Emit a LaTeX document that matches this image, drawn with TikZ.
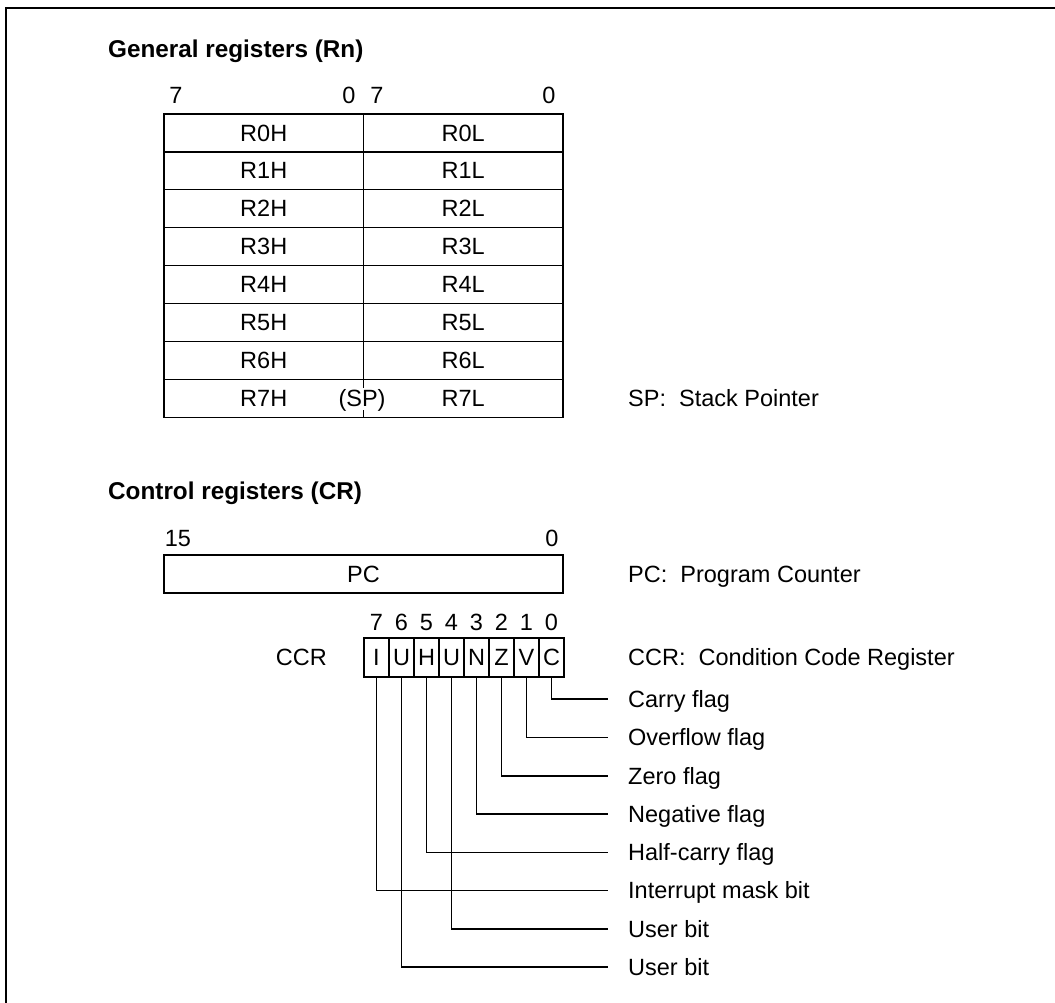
\documentclass[tikz,border=0pt]{standalone}
\usepackage{fontspec}
\setmainfont{Liberation Sans}
\begin{document}
\begin{tikzpicture}[x=1pt,y=-1pt,
  every node/.style={font=\fontsize{23.5}{27}\selectfont},
  txt/.style={inner sep=0pt, text height=16.2pt, text depth=0pt},
  head/.style={txt, anchor=west, font=\fontsize{24.3}{28}\selectfont\bfseries},
  cell/.style={draw, line width=1.3pt, inner sep=0pt, minimum width=199.5pt, minimum height=37.9pt, text height=16.2pt, text depth=0pt},
  bitbox/.style={draw, line width=1.3pt, inner sep=0pt, minimum width=25pt, minimum height=39pt, text height=16.2pt, text depth=0pt},
  lbl/.style={txt, anchor=west},
  conn/.style={line width=1.1pt}
]
\useasboundingbox (0,0) rectangle (1055,1002);
% outer frame (cut by the picture edge)
\draw[line width=2pt] (6,1010) -- (6,8) -- (1060,8);

% General registers
\node[head] (hgen) at (108,49) {General registers (Rn)};
\node[txt] (g7a) at (176,95.5) {7};
\node[txt] (g0a) at (349,95.5) {0};
\node[txt] (g7b) at (377,95.5) {7};
\node[txt] (g0b) at (549,95.5) {0};

\foreach \i in {0,...,7}{
  \pgfmathsetmacro{\yy}{114+37.9*\i+18.95}
  \node[cell] (r\i h) at (263.75,\yy) {R\i H};
  \node[cell] (r\i l) at (463.25,\yy) {R\i L};
}
\node[txt, fill=white, inner xsep=0.5pt, inner ysep=3pt] (sp) at (362,398.6) {(SP)};
\node[lbl] (splbl) at (628,398.6) {SP:\ \ Stack Pointer};

% Control registers
\node[head] (hcr) at (108,491.5) {Control registers (CR)};
\node[txt] (c15) at (178,538.5) {15};
\node[txt] (c0) at (552,538.5) {0};
\node[draw, line width=1.3pt, inner sep=0pt, minimum width=399pt, minimum height=38pt, text height=16.2pt, text depth=0pt] (pc) at (363.5,574) {PC};
\node[lbl] (pclbl) at (628,574) {PC:\ \ Program Counter};

% CCR
\node[txt, anchor=east] (ccr) at (327,657.5) {CCR};
\node[lbl] (ccrlbl) at (628,657.5) {CCR:\ \ Condition Code Register};
\foreach \n/\t [count=\k from 0] in {b7/I,b6/U,b5/H,b4/U,b3/N,b2/Z,b1/V,b0/C}{
  \node[bitbox] (\n) at (376.5+25*\k,657.5) {\t};
  \pgfmathtruncatemacro{\d}{7-\k}
  \node[txt] (d\n) at (376.5+25*\k,622) {\d};
}

% flag labels and leaders
\foreach \n/\t/\yy in {b0/Carry flag/699, b1/Overflow flag/737.5, b2/Zero flag/776,
  b3/Negative flag/814, b5/Half-carry flag/852.5, b7/Interrupt mask bit/890.5,
  b4/User bit/929, b6/User bit/967}{
  \node[lbl] (l\n) at (628,\yy) {\t};
  \draw[conn] (\n.south) |- ([xshift=-20pt]l\n.west);
}
\end{tikzpicture}
\end{document}
